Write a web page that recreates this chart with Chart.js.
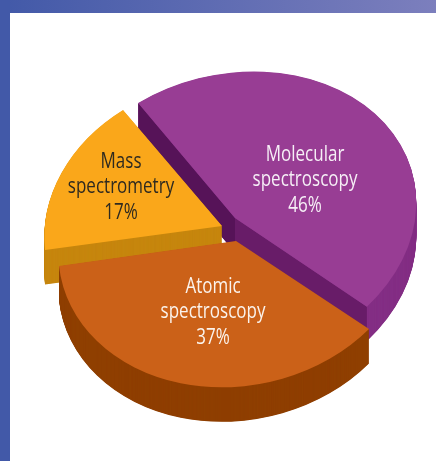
<!DOCTYPE html>
<html>
<head>
<meta charset="utf-8">
<style>
html,body{margin:0;padding:0;background:#fff;width:436px;height:461px;overflow:hidden}
#top{position:absolute;left:0;top:0;width:436px;height:13px;background:linear-gradient(90deg,#4259a8,#7c7fbd)}
#left{position:absolute;left:0;top:0;width:10px;height:461px;background:#4259a8}
canvas{position:absolute;left:0;top:0}
</style>
<script src="https://cdn.jsdelivr.net/npm/chart.js@4/dist/chart.umd.min.js"></script>
</head>
<body>
<div id="top"></div><div id="left"></div>
<canvas id="c" width="436" height="461"></canvas>
<script>
const categories = ['Molecular spectroscopy', 'Atomic spectroscopy', 'Mass spectrometry'];
const values = [46, 37, 17];
const labelLines = [['Molecular', 'spectroscopy'], ['Atomic', 'spectroscopy'], ['Mass', 'spectrometry']];

const topColors = ['#983d94', '#cb6118', '#faa71a'];
const wallColors = ['#842f85', '#8f3f00', '#c6860e'];
const textColors = ['#f6eff6', '#fbf3ec', '#2e2a20'];
const cutColors = ['#561358', '#681c68'];

// Per-slice tilt (linear part) and explosion offset of the projected disc
const tilts = [[181, -7.7, -9.5, 146.3], [177.7, -8.5, -3.9, 146.1], [177.6, -7.4, -4.5, 147.4]];
const offsets = [[235, 218], [236, 241], [222, 226]];
const labelAnchors = [[305, 155], [213, 287], [121, 162]];
const DEPTH = 34.5;
const LINE = 25.3;
const TEXT_SQUEEZE = 0.81;
const drawOrder = [0, 2, 1];

function place(ctx, i, arc, dy) {
  const t = tilts[i], o = offsets[i], R = arc.outerRadius;
  ctx.translate(o[0], o[1] + dy);
  ctx.transform(t[0] / R, t[1] / R, t[2] / R, t[3] / R, 0, 0);
  ctx.translate(-arc.x, -arc.y);
}
function project(i, angle) {
  const t = tilts[i], o = offsets[i], c = Math.cos(angle), s = Math.sin(angle);
  return [o[0] + t[0] * c + t[2] * s, o[1] + t[1] * c + t[3] * s];
}
function paint(ctx, arc, color) {
  const ghost = Object.create(arc);
  ghost.options = Object.assign({}, arc.options, {backgroundColor: color, borderWidth: 0});
  Chart.ArcElement.prototype.draw.call(ghost, ctx);
}
function cutFace(ctx, a, b, color) {
  ctx.fillStyle = color;
  ctx.beginPath();
  ctx.moveTo(a[0], a[1]);
  ctx.lineTo(b[0], b[1]);
  ctx.lineTo(b[0], b[1] + DEPTH);
  ctx.lineTo(a[0], a[1] + DEPTH);
  ctx.closePath();
  ctx.fill();
}

const tiltedPie = {
  id: 'tiltedPie',
  beforeDatasetsDraw(chart) {
    const ctx = chart.ctx, arcs = chart.getDatasetMeta(0).data;
    drawOrder.forEach(i => {
      const arc = arcs[i];
      for (let k = DEPTH; k >= 0.5; k -= 0.5) {
        ctx.save(); place(ctx, i, arc, k); paint(ctx, arc, wallColors[i]); ctx.restore();
      }
      if (i === 0) {
        const apex = offsets[0];
        cutFace(ctx, project(0, arc.startAngle), apex, cutColors[0]);
        cutFace(ctx, apex, project(0, arc.endAngle), cutColors[1]);
      }
      ctx.save(); place(ctx, i, arc, 0); paint(ctx, arc, topColors[i]); ctx.restore();
    });
    return false;
  },
  afterDraw(chart) {
    const ctx = chart.ctx;
    ctx.textAlign = 'center';
    ctx.textBaseline = 'middle';
    ctx.font = '21px "Open Sans", "Liberation Sans", sans-serif';
    values.forEach((v, i) => {
      ctx.fillStyle = textColors[i];
      const lines = labelLines[i].concat(v + '%');
      lines.forEach((s, j) => {
        ctx.save();
        ctx.translate(labelAnchors[i][0], labelAnchors[i][1] + j * LINE);
        ctx.scale(TEXT_SQUEEZE, 1);
        ctx.fillText(s, 0, 0);
        ctx.restore();
      });
    });
  }
};

new Chart(document.getElementById('c'), {
  type: 'pie',
  data: {labels: categories, datasets: [{data: values, backgroundColor: topColors, borderWidth: 0}]},
  options: {
    responsive: false,
    animation: false,
    rotation: -35.3,
    layout: {padding: 0},
    plugins: {legend: {display: false}, tooltip: {enabled: false}}
  },
  plugins: [tiltedPie]
});
</script>
</body>
</html>
